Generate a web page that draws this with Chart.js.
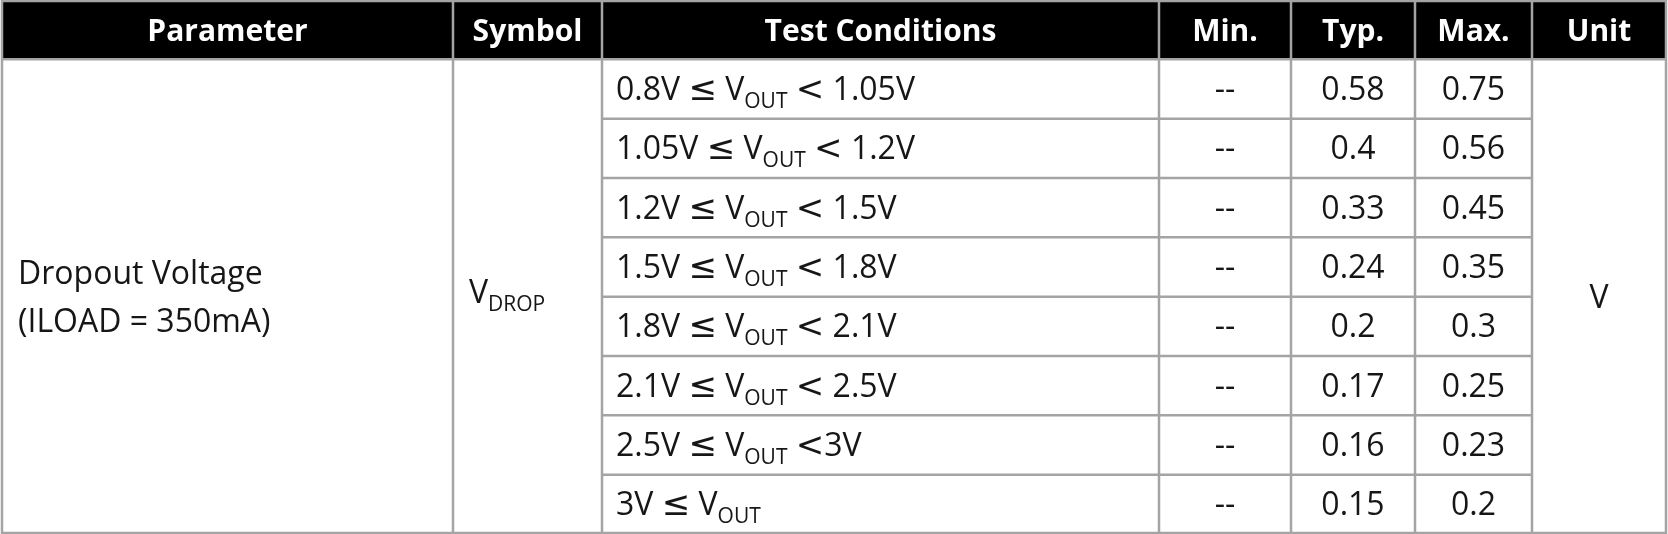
<!DOCTYPE html>
<html>
<head>
<meta charset="utf-8">
<title>Dropout Voltage table</title>
<script src="https://cdn.jsdelivr.net/npm/chart.js@4.4.1/dist/chart.umd.min.js"></script>
<style>
  html, body { margin: 0; padding: 0; background: #fff; }
  #wrap { width: 1668px; height: 534px; }
</style>
</head>
<body>
<div id="wrap"><canvas id="tabla" width="1668" height="534"></canvas></div>
<script>
// table contents
const headers = ['Parameter', 'Symbol', 'Test Conditions', 'Min.', 'Typ.', 'Max.', 'Unit'];
const paramLines = ['Dropout Voltage', '(ILOAD = 350mA)'];
const symbolMain = 'V';
const symbolSub = 'DROP';
const vLow = ['0.8V', '1.05V', '1.2V', '1.5V', '1.8V', '2.1V', '2.5V', '3V'];
const vHigh = [' 1.05V', ' 1.2V', ' 1.5V', ' 1.8V', ' 2.1V', ' 2.5V', '3V', ''];
const minVals = ['--', '--', '--', '--', '--', '--', '--', '--'];
const typVals = [0.58, 0.4, 0.33, 0.24, 0.2, 0.17, 0.16, 0.15];
const maxVals = [0.75, 0.56, 0.45, 0.35, 0.3, 0.25, 0.23, 0.2];
const unitText = 'V';

// layout (pixels on the x scale)
const colEdges = [2, 453, 602, 1159, 1291, 1415, 1532, 1666];
const rowLabels = ['head'].concat(vLow);

const FONT = '"Open Sans", "Noto Sans", sans-serif';
const BODY = '32px ' + FONT;
const SUB = '21px ' + FONT;
const MATH = '34px "DejaVu Sans"';
const INK = '#161616';
const LINE = '#a4a4a4';

const colMid = i => (colEdges[i] + colEdges[i + 1]) / 2;

// draws a list of [text, font, dy] runs left to right
function drawRuns(ctx, x, base, runs) {
  runs.forEach(([t, f, dy]) => {
    ctx.font = f;
    ctx.fillText(t, x, base + (dy || 0));
    x += ctx.measureText(t).width;
  });
}

const tablePlugin = {
  id: 'tablePlugin',
  beforeDraw(chart) {
    const ctx = chart.ctx;
    const xs = chart.scales.x, ys = chart.scales.y;
    ctx.save();
    ctx.fillStyle = '#fff';
    ctx.fillRect(0, 0, chart.width, chart.height);
    const hTop = ys.getPixelForValue(-0.5), hBot = ys.getPixelForValue(0.5);
    ctx.fillStyle = '#000';
    ctx.fillRect(xs.getPixelForValue(colEdges[0]), hTop,
      xs.getPixelForValue(colEdges[7]) - xs.getPixelForValue(colEdges[0]), hBot - hTop);
    ctx.restore();
  },
  afterDraw(chart) {
    const ctx = chart.ctx;
    const xs = chart.scales.x, ys = chart.scales.y;
    const X = v => xs.getPixelForValue(v);
    const Y = v => ys.getPixelForValue(v);
    const top = Y(-0.5), bottom = Y(rowLabels.length - 0.5);
    ctx.save();

    // grid lines
    ctx.strokeStyle = LINE;
    ctx.lineWidth = 2.5;
    ctx.beginPath();
    ctx.rect(X(colEdges[0]), top + 1, X(colEdges[7]) - X(colEdges[0]), bottom - top - 2);
    for (let i = 1; i < colEdges.length - 1; i++) {
      ctx.moveTo(X(colEdges[i]), top);
      ctx.lineTo(X(colEdges[i]), bottom);
    }
    ctx.moveTo(X(colEdges[0]), Y(0.5));
    ctx.lineTo(X(colEdges[7]), Y(0.5));
    for (let r = 1; r < vLow.length; r++) {
      ctx.moveTo(X(colEdges[2]), Y(r + 0.5));
      ctx.lineTo(X(colEdges[6]), Y(r + 0.5));
    }
    ctx.stroke();

    // header text
    ctx.fillStyle = '#fff';
    ctx.font = 'bold 30px ' + FONT;
    ctx.textAlign = 'center';
    ctx.textBaseline = 'alphabetic';
    headers.forEach((h, i) => ctx.fillText(h, X(colMid(i)), Y(0) + 11));

    // merged cells
    ctx.fillStyle = INK;
    const midBody = (Y(0.5) + bottom) / 2;
    ctx.textAlign = 'left';
    ctx.font = BODY;
    ctx.fillText(paramLines[0], X(colEdges[0]) + 16, midBody - 13);
    ctx.fillText(paramLines[1], X(colEdges[0]) + 16, midBody + 35);
    drawRuns(ctx, X(colEdges[1]) + 16, midBody + 6, [[symbolMain, BODY], [symbolSub, SUB, 8]]);
    ctx.textAlign = 'center';
    ctx.font = BODY;
    ctx.fillText(unitText, X(colMid(6)), midBody + 11);

    // per-row cells
    vLow.forEach((low, r) => {
      const base = Y(r + 1) + 11;
      ctx.textAlign = 'left';
      const runs = [[low + ' ', BODY], ['\u2264', MATH], [' V', BODY], ['OUT', SUB, 8]];
      if (vHigh[r]) runs.push([' ', BODY], ['<', MATH], [vHigh[r], BODY]);
      drawRuns(ctx, X(colEdges[2]) + 14, base, runs);
      ctx.textAlign = 'center';
      ctx.font = BODY;
      ctx.fillText(minVals[r], X(colMid(3)), base);
    });

    // value columns come from the dataset points
    chart.data.datasets.forEach((ds, di) => {
      const meta = chart.getDatasetMeta(di);
      meta.data.forEach((pt, i) => {
        ctx.textAlign = 'center';
        ctx.font = BODY;
        ctx.fillText(String(ds.data[i].v), pt.x, pt.y + 11);
      });
    });
    ctx.restore();
  }
};

new Chart(document.getElementById('tabla'), {
  type: 'scatter',
  data: {
    datasets: [
      { label: 'Typ.', data: typVals.map((v, i) => ({ x: colMid(4), y: vLow[i], v: v })), pointRadius: 0 },
      { label: 'Max.', data: maxVals.map((v, i) => ({ x: colMid(5), y: vLow[i], v: v })), pointRadius: 0 }
    ]
  },
  options: {
    responsive: false,
    animation: false,
    events: [],
    layout: { padding: 0 },
    plugins: { legend: { display: false }, tooltip: { enabled: false } },
    scales: {
      x: { type: 'linear', min: 0, max: 1668, display: false },
      y: { type: 'category', labels: rowLabels, offset: true, display: false }
    }
  },
  plugins: [tablePlugin]
});
</script>
</body>
</html>
